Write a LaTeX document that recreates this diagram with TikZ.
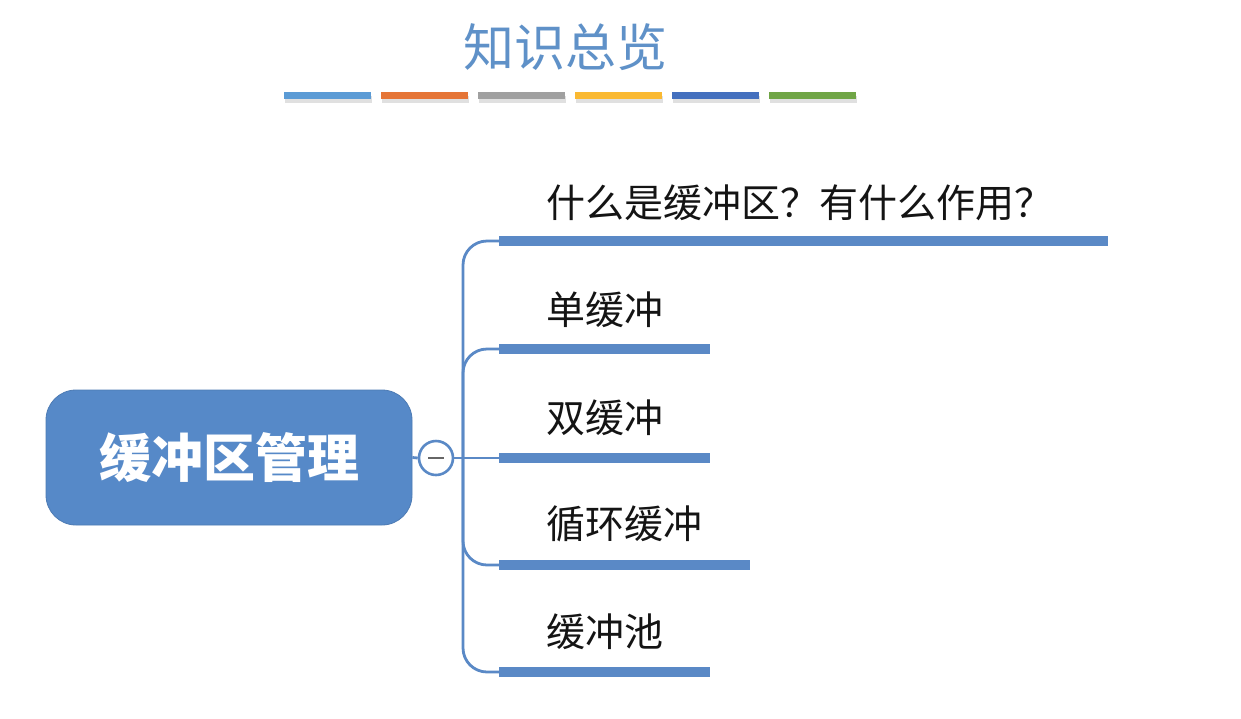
\documentclass[tikz,border=0pt]{standalone}
\usepackage{fontspec}
\newfontfamily\cjk{Noto Sans CJK SC}
\usetikzlibrary{calc,backgrounds}
\definecolor{titleblue}{RGB}{95,145,200}
\definecolor{mainblue}{RGB}{86,137,200}
\definecolor{linkblue}{RGB}{90,137,198}
\definecolor{cA}{RGB}{91,155,213}
\definecolor{cB}{RGB}{229,117,55}
\definecolor{cC}{RGB}{160,160,160}
\definecolor{cD}{RGB}{250,185,50}
\definecolor{cE}{RGB}{68,112,190}
\definecolor{cF}{RGB}{112,165,70}
\definecolor{txt}{RGB}{20,20,20}
\tikzset{
  titlebar/.style={line width=3.5pt},
  underbar/.style={draw=linkblue, line width=5pt},
  conn/.style={draw=linkblue, line width=1.4pt, rounded corners=12pt},
  leaf/.style={anchor=west, inner sep=0pt, text=txt, font=\cjk\fontsize{19.5}{22}\selectfont},
  rootbox/.style={fill=mainblue, draw=mainblue!90!black, line width=0.4pt, rounded corners=15pt,
    minimum width=183pt, minimum height=67.5pt, text=white, font=\cjk\bfseries\fontsize{26}{30}\selectfont},
  toggle/.style={circle, draw=linkblue, line width=1.3pt, fill=white, minimum size=17pt, inner sep=0pt,
    path picture={\draw[gray!80!black, line width=1.2pt] ($(path picture bounding box.center)+(-4pt,0)$) -- ($(path picture bounding box.center)+(4pt,0)$);}}
}
\begin{document}
\begin{tikzpicture}[x=0.5pt,y=-0.5pt]
\begin{scope}[on background layer]
\fill[white] (0,0) rectangle (1241,718);
\end{scope}
\useasboundingbox (0,0) rectangle (1241,718);
% title
\node[text=titleblue, font=\cjk\fontsize{25.5}{28}\selectfont] (title) at (565,47) {知识总览};
% coloured strips
\foreach \i/\c in {0/cA,1/cB,2/cC,3/cD,4/cE,5/cF}{
  \coordinate (s\i a) at ({284+97*\i},95);
  \coordinate (s\i b) at ({371+97*\i},95);
  \draw[titlebar, black!12] ($(s\i a)+(1,4)$) -- ($(s\i b)+(1,4)$);
  \draw[titlebar, \c] (s\i a) -- (s\i b);
}
% root
\node[rootbox] (root) at (229,457.5) {缓冲区管理};
\node[toggle] (tog) at (436,458) {};
\coordinate (trunk) at (463,458);
% bars
\coordinate (b1s) at (499,241); \coordinate (b1e) at (1108,241);
\coordinate (b2s) at (499,349); \coordinate (b2e) at (710,349);
\coordinate (b3s) at (499,458); \coordinate (b3e) at (710,458);
\coordinate (b4s) at (499,565); \coordinate (b4e) at (750,565);
\coordinate (b5s) at (499,672); \coordinate (b5e) at (710,672);
% connectors
\begin{scope}[on background layer]
\draw[linkblue, line width=1.4pt] (root.east) -- (tog.west);
\draw[conn] (tog.east) -- (b3s);
\draw[conn] (trunk) |- (b1s);
\draw[conn] (trunk) |- (b2s);
\draw[conn] (trunk) |- (b4s);
\draw[conn] (trunk) |- (b5s);
\end{scope}
\foreach \k in {1,...,5}{ \draw[underbar] (b\k s) -- (b\k e); }
% labels
\node[leaf] (l1) at (546,203) {什么是缓冲区？有什么作用？};
\node[leaf] (l2) at (546,310) {单缓冲};
\node[leaf] (l3) at (546,418) {双缓冲};
\node[leaf] (l4) at (546,524) {循环缓冲};
\node[leaf] (l5) at (546,632) {缓冲池};
\end{tikzpicture}
\end{document}
